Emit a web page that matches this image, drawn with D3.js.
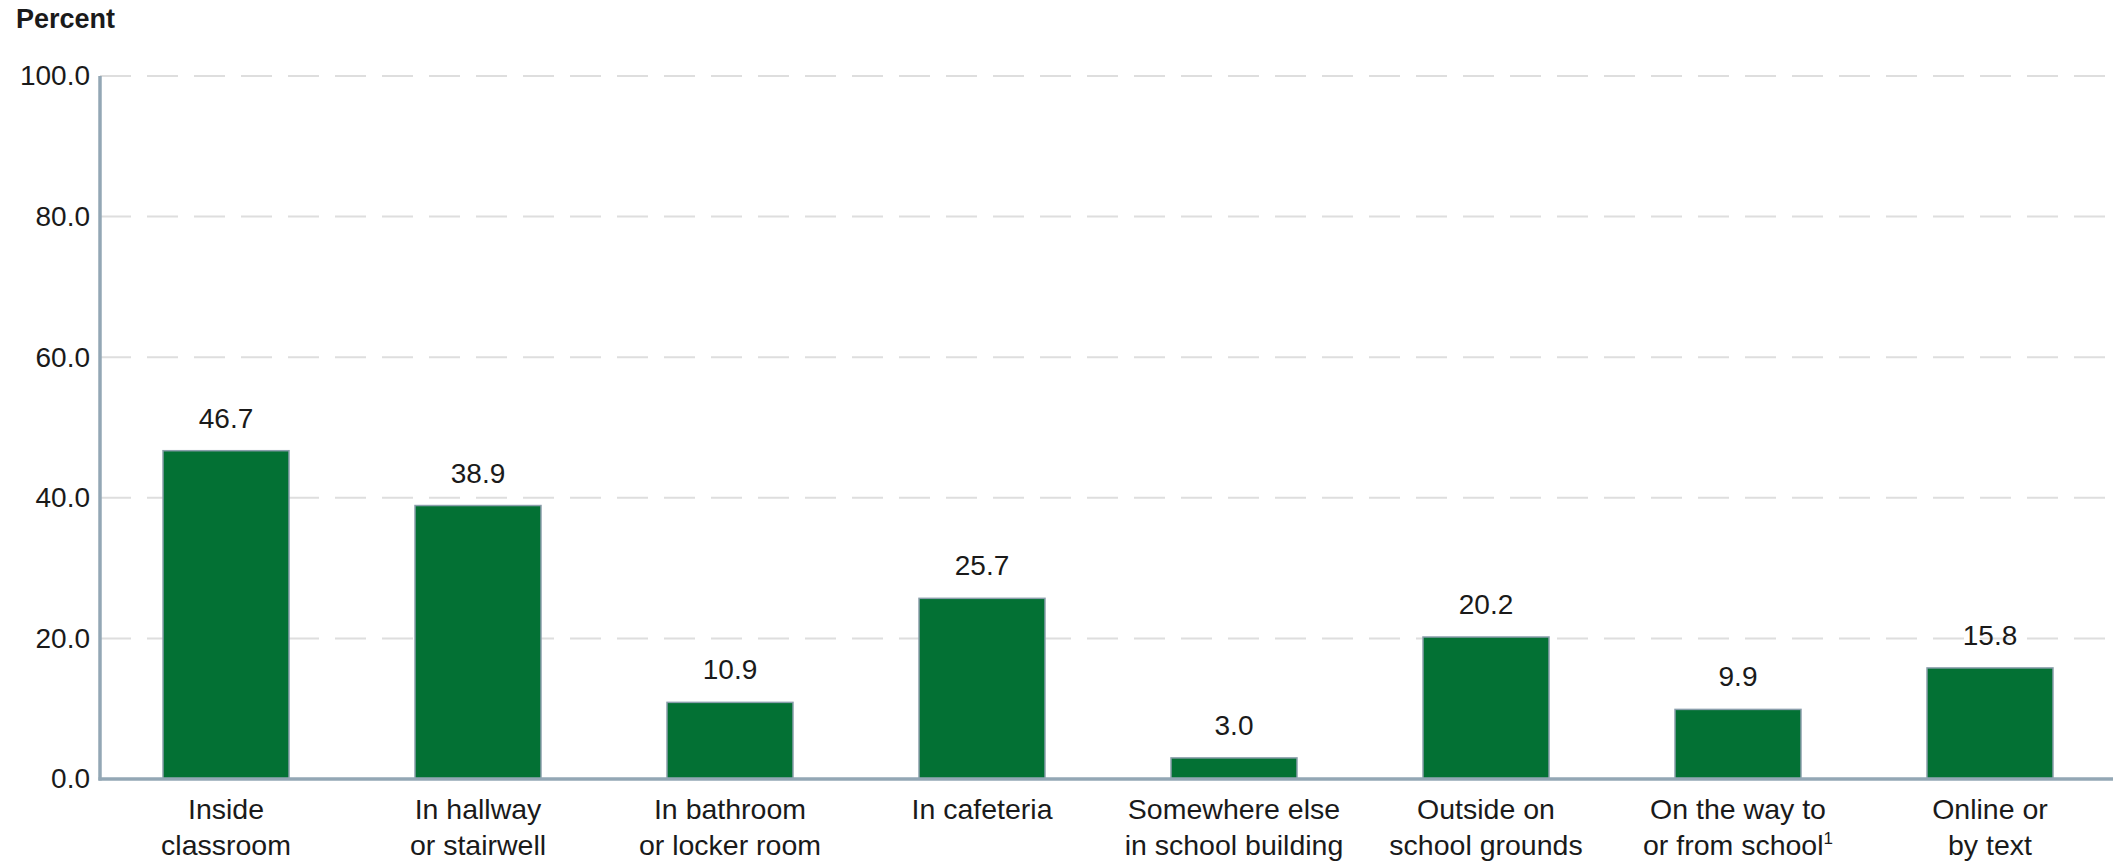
<!DOCTYPE html>
<html>
<head>
<meta charset="utf-8">
<script src="https://cdn.jsdelivr.net/npm/d3@7"></script>
<style>
  html, body { margin: 0; padding: 0; background: #ffffff; }
  svg { display: block; }
  text { font-family: "Liberation Sans", Arial, sans-serif; fill: #1a1a1a; }
</style>
</head>
<body>
<svg id="chart" width="2113" height="863"></svg>
<script>
// Location where students were bullied, percent
const categories = [
  ["Inside", "classroom"],
  ["In hallway", "or stairwell"],
  ["In bathroom", "or locker room"],
  ["In cafeteria"],
  ["Somewhere else", "in school building"],
  ["Outside on", "school grounds"],
  ["On the way to", "or from school"],
  ["Online or", "by text"]
];
const footnoteMarks = [null, null, null, null, null, null, "1", null];
const values = [46.7, 38.9, 10.9, 25.7, 3.0, 20.2, 9.9, 15.8];
const yTicks = [0, 20, 40, 60, 80, 100];

const width = 2113, height = 863;
const margin = { left: 100, right: -3, top: 76, bottom: 84 };

const svg = d3.select("#chart");

const x = d3.scaleBand()
  .domain(d3.range(values.length))
  .range([margin.left, width - margin.right])
  .paddingInner(0.5)
  .paddingOuter(0.25);

const y = d3.scaleLinear()
  .domain([0, 100])
  .range([height - margin.bottom, margin.top]);

// Dashed gridlines
svg.append("g")
  .selectAll("line")
  .data(yTicks.filter(d => d > 0))
  .join("line")
  .attr("x1", margin.left)
  .attr("x2", width)
  .attr("y1", d => y(d))
  .attr("y2", d => y(d))
  .attr("stroke", "#dedede")
  .attr("stroke-width", 2)
  .attr("stroke-dasharray", "31 16");

// Y axis labels
const yAxis = d3.axisLeft(y)
  .tickValues(yTicks)
  .tickFormat(d3.format(".1f"))
  .tickSize(0)
  .tickPadding(10);

svg.append("g")
  .attr("transform", `translate(${margin.left},0)`)
  .call(yAxis)
  .call(g => g.select(".domain").remove())
  .call(g => g.selectAll("text")
    .attr("font-size", 28)
    .attr("font-family", "Liberation Sans, Arial, sans-serif")
    .attr("fill", "#1a1a1a"));

// Bars
svg.append("g")
  .selectAll("rect")
  .data(values)
  .join("rect")
  .attr("x", (d, i) => x(i))
  .attr("y", d => y(d))
  .attr("width", x.bandwidth())
  .attr("height", d => y(0) - y(d))
  .attr("fill", "#037134")
  .attr("stroke", "#8a9eab")
  .attr("stroke-width", 1.5);

// Value labels
svg.append("g")
  .selectAll("text")
  .data(values)
  .join("text")
  .attr("x", (d, i) => x(i) + x.bandwidth() / 2)
  .attr("y", d => y(d) - 23)
  .attr("text-anchor", "middle")
  .attr("font-size", 28)
  .text(d => d3.format(".1f")(d));

// Axis lines
svg.append("line")
  .attr("x1", margin.left).attr("x2", margin.left)
  .attr("y1", y(100)).attr("y2", y(0) + 1.5)
  .attr("stroke", "#93a7b5").attr("stroke-width", 3.5);
svg.append("line")
  .attr("x1", margin.left - 1.5).attr("x2", width)
  .attr("y1", y(0)).attr("y2", y(0))
  .attr("stroke", "#93a7b5").attr("stroke-width", 3.5);

// Category labels
const cat = svg.append("g")
  .selectAll("text")
  .data(categories)
  .join("text")
  .attr("x", (d, i) => x(i) + x.bandwidth() / 2)
  .attr("y", y(0) + 40)
  .attr("text-anchor", "middle")
  .attr("font-size", 28.5);

cat.each(function (lines, i) {
  const t = d3.select(this);
  lines.forEach((line, j) => {
    t.append("tspan")
      .attr("x", x(i) + x.bandwidth() / 2)
      .attr("dy", j === 0 ? 0 : 36)
      .text(line);
    if (j === lines.length - 1 && footnoteMarks[i]) {
      t.append("tspan")
        .attr("font-size", 17)
        .attr("dy", -11)
        .text(footnoteMarks[i]);
    }
  });
});

// Axis title
svg.append("text")
  .attr("x", 16)
  .attr("y", 28)
  .attr("font-size", 27)
  .attr("font-weight", "bold")
  .text("Percent");
</script>
</body>
</html>
